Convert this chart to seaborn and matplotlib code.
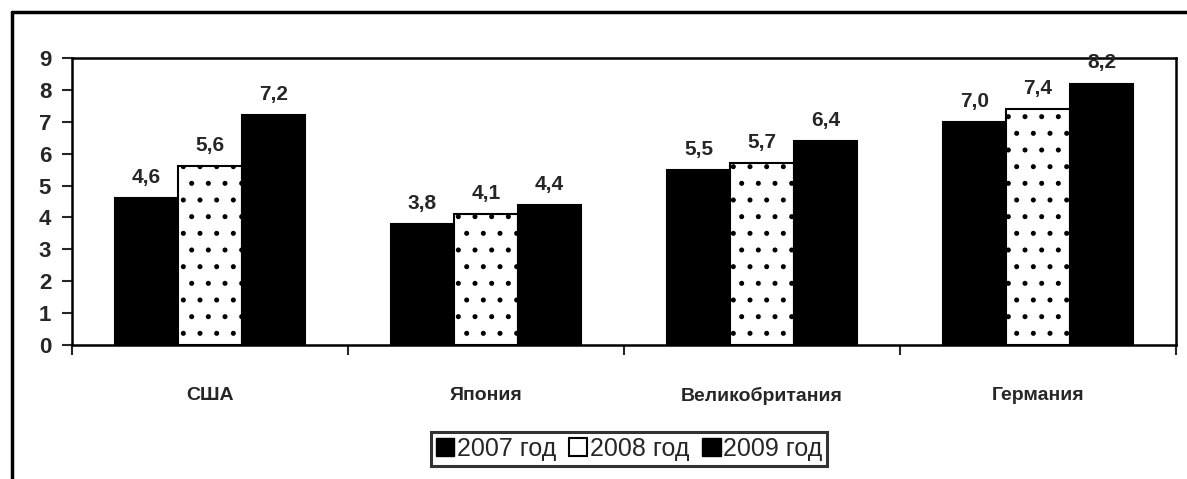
import matplotlib
matplotlib.use("Agg")
import matplotlib.pyplot as plt
import seaborn as sns
import pandas as pd
from matplotlib.patches import Patch
from matplotlib.lines import Line2D

countries = ["США", "Япония", "Великобритания", "Германия"]
years = ["2007 год", "2008 год", "2009 год"]
v2007 = [4.6, 3.8, 5.5, 7.0]
v2008 = [5.6, 4.1, 5.7, 7.4]
v2009 = [7.2, 4.4, 6.4, 8.2]
yticks = list(range(0, 10))

sns.set_style("white")
plt.rcParams["font.family"] = ["Liberation Sans", "DejaVu Sans"]
plt.rcParams["font.weight"] = "bold"
plt.rcParams["hatch.linewidth"] = 1.2

rows = []
for yr, vals in zip(years, [v2007, v2008, v2009]):
    for c, v in zip(countries, vals):
        rows.append({"country": c, "year": yr, "value": v})
df = pd.DataFrame(rows)

fig = plt.figure(figsize=(11.87, 4.79), dpi=100)
ax = fig.add_axes([72/1187, 1-345/479, (1176-72)/1187, (345-58)/479])

sns.barplot(data=df, x="country", y="value", hue="year", order=countries,
            hue_order=years, palette=["black", "white", "black"], width=0.69,
            edgecolor="black", linewidth=1.5, saturation=1, ax=ax, legend=False)

for bar in ax.containers[1]:
    bar.set_hatch(".")

for cont, vals in zip(ax.containers, [v2007, v2008, v2009]):
    ax.bar_label(cont, labels=[f"{v:.1f}".replace(".", ",") for v in vals],
                 padding=8, fontsize=15, fontweight="bold")

ax.set_ylim(0, 9)
ax.set_xlim(-0.5, 3.5)
ax.set_yticks(yticks)
ax.set_yticklabels([str(t) for t in yticks], fontsize=16, fontweight="bold")
ax.set_xlabel("")
ax.set_ylabel("")
ax.set_xticks(range(len(countries)))
ax.set_xticklabels(countries, fontsize=14, fontweight="bold")
ax.set_xticks([-0.5, 0.5, 1.5, 2.5, 3.5], minor=True)
ax.tick_params(axis="x", which="major", length=0, pad=30)
ax.tick_params(axis="x", which="minor", length=7, width=1.5, direction="out", bottom=True)
ax.tick_params(axis="y", length=7, width=1.5, direction="out", left=True, pad=8)
for s in ax.spines.values():
    s.set_visible(True)
    s.set_color("black")
    s.set_linewidth(1.8)

handles = [Patch(facecolor="black", edgecolor="black"),
           Patch(facecolor="white", edgecolor="black", linewidth=1.5),
           Patch(facecolor="black", edgecolor="black")]
leg = fig.legend(handles, years, loc="center", bbox_to_anchor=(629/1187, 1-449/479),
                 ncol=3, prop={"size": 18, "weight": "normal"}, frameon=True, fancybox=False,
                 handlelength=0.75, handleheight=0.75, handletextpad=0.1,
                 columnspacing=0.5, borderpad=0.2, borderaxespad=0)
leg.get_frame().set_edgecolor("black")
leg.get_frame().set_linewidth(2.2)

fig.add_artist(Line2D([12/1187, 12/1187], [0, 1-12/479], color="black", lw=2.5,
                      transform=fig.transFigure))
fig.add_artist(Line2D([12/1187, 1], [1-12/479, 1-12/479], color="black", lw=2.5,
                      transform=fig.transFigure))

fig.savefig("out.png", dpi=100)
